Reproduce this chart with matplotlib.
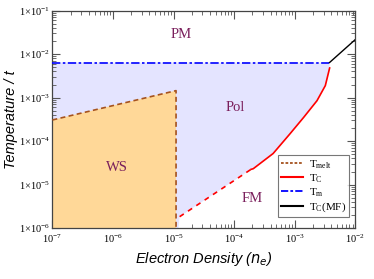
import matplotlib
matplotlib.use('Agg')
import matplotlib.pyplot as plt
import numpy as np

# phase boundaries (log-log)
tm_x = [1e-7, 3.75e-3]
tm_y = [6.4e-3, 6.4e-3]

tmelt_x = [1e-7, 1.1e-5, 1.1e-5]
tmelt_y = [3.07e-4, 1.45e-3, 1e-6]

tc_dash_x = [1.26e-5, 1.9e-4]
tc_dash_y = [1.84e-6, 2.25e-5]

tc_x = [1.9e-4, 2.07e-4, 4.4e-4, 8.4e-4, 1.40e-3, 2.33e-3, 3.2e-3, 3.77e-3]
tc_y = [2.25e-5, 2.33e-5, 5.2e-5, 1.49e-4, 3.5e-4, 8.5e-4, 1.89e-3, 4.8e-3]

mf_x = [3.75e-3, 1e-2]
mf_y = [6.4e-3, 2.16e-2]

regions = ['PM', 'Pol', 'WS', 'FM']
region_x = [1.33e-5, 1.05e-4, 1.17e-6, 1.97e-4]
region_y = [2.9e-2, 5.8e-4, 2.42e-5, 4.94e-6]

xticks = [1e-7, 1e-6, 1e-5, 1e-4, 1e-3, 1e-2]
yticks = [1e-6, 1e-5, 1e-4, 1e-3, 1e-2, 1e-1]

plt.rcParams['font.family'] = 'Liberation Serif'
plt.rcParams['mathtext.fontset'] = 'custom'
plt.rcParams['mathtext.rm'] = 'Liberation Serif'
plt.rcParams['mathtext.it'] = 'Liberation Serif:italic'

fig = plt.figure(figsize=(3.74, 2.79), dpi=100)
ax = fig.add_axes([0.140, 0.182, 0.810, 0.780])
ax.set_xscale('log')
ax.set_yscale('log')
ax.set_xlim(1e-7, 1e-2)
ax.set_ylim(1e-6, 1e-1)

# Pol region: below Tm, left of Tc
pol_x = [tm_x[0], tm_x[1]] + tc_x[::-1] + [tc_dash_x[0], tc_dash_x[0] * 0.96, tm_x[0]]
pol_y = [tm_y[0], tm_y[1]] + tc_y[::-1] + [tc_dash_y[0], 1e-6, 1e-6]
ax.fill(pol_x, pol_y, color='#e4e4ff', lw=0, zorder=1)

ws_x = [tmelt_x[0], tmelt_x[1], tmelt_x[2], tmelt_x[0]]
ws_y = [tmelt_y[0], tmelt_y[1], tmelt_y[2], 1e-6]
ax.fill(ws_x, ws_y, color='#ffd898', lw=0, zorder=2)

ax.plot(tmelt_x, tmelt_y, color='#a5521e', ls=(0, (3, 2)), lw=1.2, zorder=3)
ax.plot(tc_dash_x, tc_dash_y, color='red', ls=(0, (3, 3)), lw=1.2, zorder=3)
ax.plot(tc_x, tc_y, color='red', lw=1.2, zorder=3)
ax.plot(tm_x, tm_y, color='blue', ls=(0, (5, 1.5, 1.5, 1.5)), lw=1.2, zorder=3)
ax.plot(mf_x, mf_y, color='black', lw=1.0, zorder=3)

for name, x, y in zip(regions, region_x, region_y):
    ax.text(x, y, name, color='#7a1f5c', fontsize=10.5, ha='center', va='center')

# legend handles
h1, = ax.plot([], [], color='#a5521e', ls=(0, (1.5, 1)), lw=1.3)
h2, = ax.plot([], [], color='red', lw=1.5)
h3, = ax.plot([], [], color='blue', ls=(0, (4, 1.2, 1.5, 1.2)), lw=1.3)
h4, = ax.plot([], [], color='black', lw=1.5)
leg = ax.legend([h1, h2, h3, h4],
                [r'T$_{\mathrm{melt}}$', r'T$_{\mathrm{C}}$', r'T$_{\mathrm{m}}$', r'T$_{\mathrm{C}}$(MF)'],
                loc='lower right', bbox_to_anchor=(0.98, 0.05), fontsize=8,
                frameon=True, fancybox=False, edgecolor='#555555',
                handlelength=2.0, handletextpad=0.5, labelspacing=0.15,
                borderpad=0.3, borderaxespad=0)
leg.get_frame().set_linewidth(0.8)

ax.set_xticks(xticks)
ax.set_xticklabels([r'10$^{%d}$' % int(np.log10(v)) for v in xticks])
ax.set_yticks(yticks)
ax.set_yticklabels([r'1$\times$10$^{%d}$' % int(np.log10(v)) for v in yticks])
ax.tick_params(which='both', direction='in', top=True, right=True, labelsize=7.5, color='#555555')
ax.tick_params(which='major', length=6, width=0.8, pad=3)
ax.tick_params(axis='y', which='major', pad=1.5)
ax.tick_params(which='minor', length=3, width=0.6)
for s in ax.spines.values():
    s.set_linewidth(0.9)
    s.set_color('#444444')

ax.set_xlabel(r'Electron Density ($n_e$)', family='Liberation Sans', style='italic', fontsize=10.5, labelpad=4)
ax.xaxis.label.set_math_fontfamily('dejavusans')
ax.set_ylabel('Temperature / t', family='Liberation Sans', style='italic', fontsize=10.5, labelpad=1)

fig.savefig('out.png', dpi=100)
